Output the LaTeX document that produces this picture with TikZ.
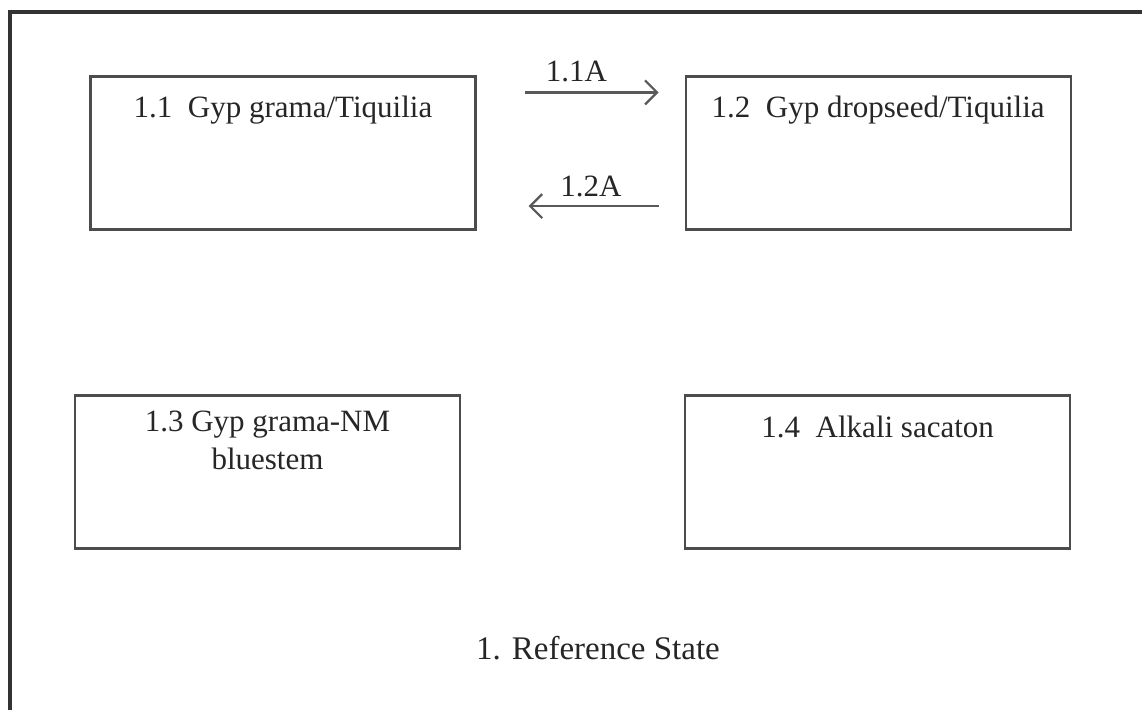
\documentclass[tikz,border=0pt]{standalone}
\usepackage{fontspec}
\setmainfont{Liberation Serif}
\usetikzlibrary{positioning}
\usetikzlibrary{arrows.meta}

\begin{document}
\begin{tikzpicture}
[x = 1pt, y = -1pt, 
stage/.style = {rectangle, draw = black!70, line width = 2.2pt, minimum width = 385pt, minimum height = 153pt}, 
caption/.style = {inner sep = 0pt, align = center, text = black!85, font = \fontsize{31}{38}\selectfont}, 
post/.style = {-{Straight Barb[length = 12pt, width = 24pt]}, draw = black!65, line width = 2.2pt}, 
frame/.style = {draw = black!80, line width = 3.5pt}]

\useasboundingbox (0, 0) rectangle (1142, 709);
\draw[frame] (10, 760) -- (10, 12) -- (1200, 12);

\node[stage] (grama) at (283, 153) {};
\node[stage] (dropseed) [right = 208pt of grama] {};
\node[stage] (bluestem) at (267.5, 472) {};
\node[stage] (sacaton) [right = 223pt of bluestem] {};

\node[caption] (grama text) [below = 20pt of grama.north] {1.1~ Gyp grama/Tiquilia};
\node[caption] (dropseed text) [below = 20pt of dropseed.north] {1.2~ Gyp dropseed/Tiquilia};
\node[caption] (bluestem text) [below = 16pt of bluestem.north] {1.3 Gyp grama-NM\\bluestem};
\node[caption] (sacaton text) [below = 21pt of sacaton.north] {1.4~ Alkali sacaton};

\draw[post, shorten <= 48pt, shorten >= 26pt] ([yshift = -17pt]grama.north east) -- ([yshift = -17pt]dropseed.north west) 
node[caption, above = 9pt, pos = 0.48] (forward) {1.1A};
\draw[post, shorten <= 26pt, shorten >= 52pt] ([yshift = 24.5pt]dropseed.south west) -- ([yshift = 24.5pt]grama.south east) 
node[caption, above = 8pt, pos = 0.45] (back) {1.2A};

\node[caption, font = \fontsize{33}{38}\selectfont] (reference) at (598, 648) {1. Reference State};
\end{tikzpicture}
\end{document}
